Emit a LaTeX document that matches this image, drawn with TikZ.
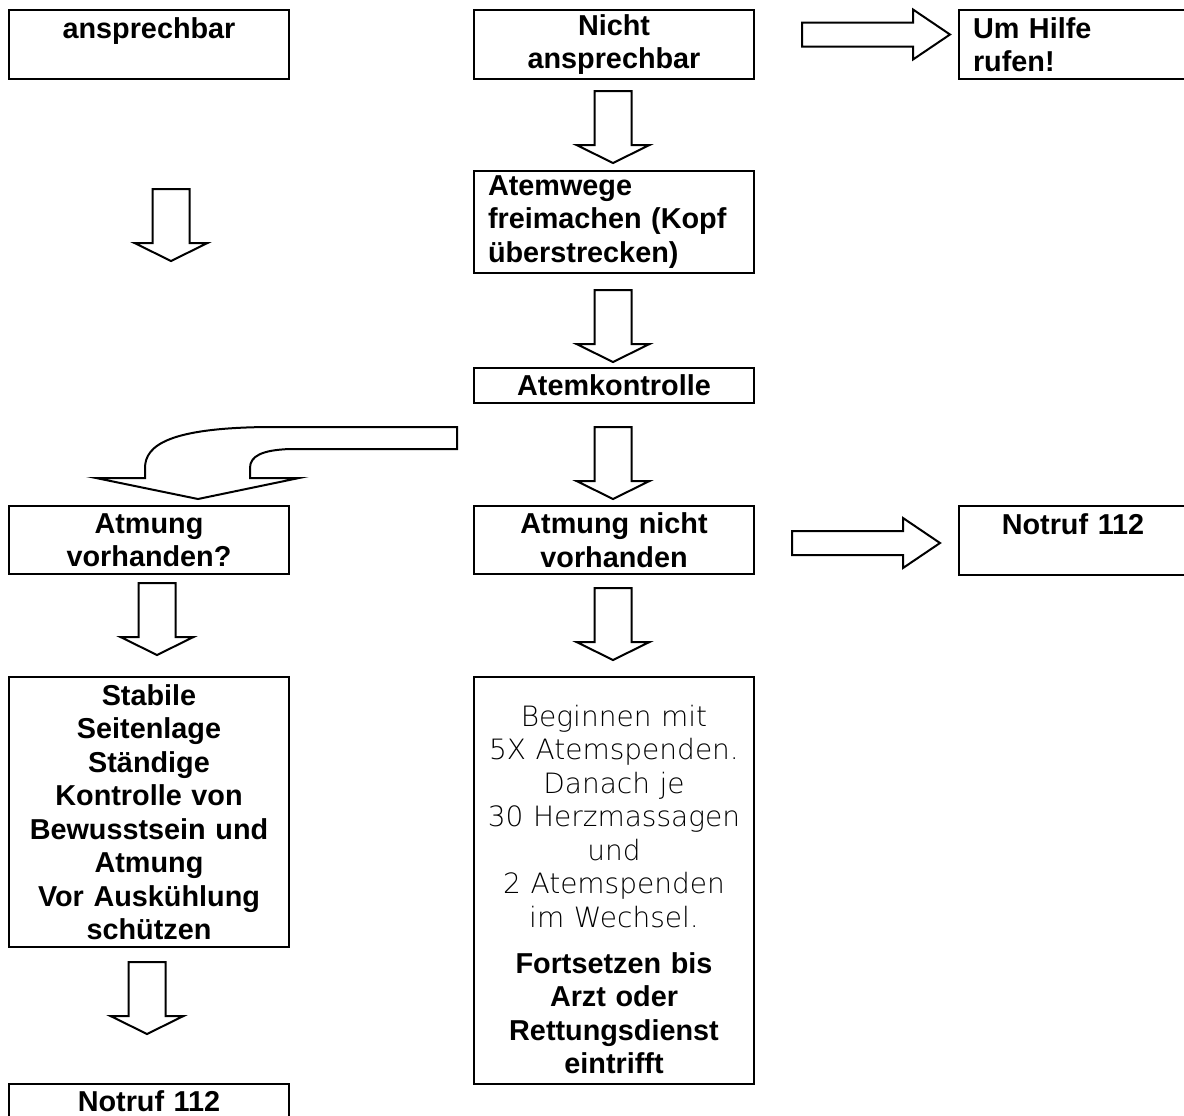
\documentclass[tikz,border=0pt]{standalone}
\usepackage{fontspec}
\setmainfont{Liberation Sans}
\IfFontExistsTF{DejaVu Sans ExtraLight}
  {\newfontfamily\thinfamily{DejaVu Sans ExtraLight}}
  {\newfontfamily\thinfamily{DejaVu Sans}}
\newcommand\thinfont{\thinfamily\mdseries\fontsize{14}{16.75}\selectfont}

% hollow block arrow pointing down, below a node
\newcommand\downblock[3]{%
  \draw[block] (#1) ++(#3-18.5,#2) -- ++(37,0) -- ++(0,54) -- ++(18,0)
    -- ++(-36.5,18) -- ++(-36.5,-18) -- ++(18,0) -- cycle;}
% hollow block arrow pointing right, beside a node
\newcommand\rightblock[3]{%
  \draw[block] (#1) ++(#2,#3-12) -- ++(111,0) -- ++(0,-13) -- ++(37,25)
    -- ++(-37,25) -- ++(0,-13) -- ++(-111,0) -- cycle;}

\begin{document}
\begin{tikzpicture}[x=0.5pt,y=-0.5pt]
    \tikzstyle{box}=[draw,line width=1pt,rectangle,anchor=north west,outer sep=0pt,
        minimum width=140pt,text width=126pt,inner xsep=7pt,inner ysep=2pt,align=center,
        font=\fontsize{14.4}{16.75}\selectfont\bfseries]
    \tikzstyle{narrow box}=[box,minimum width=114pt,text width=100pt]
    \tikzstyle{wide text}=[text width=136pt,inner xsep=2pt]
    \tikzstyle{block}=[draw,line width=1pt,fill=white,line join=miter]

    \useasboundingbox (0,0) rectangle (1184,1115);

    % Draw the boxes of the left column
    \node[box,minimum height=34.5pt] (ansp) at (9,10) {ansprechbar\\~};
    \node[box,minimum height=34pt] (vorh) at (9,506) {Atmung\\vorhanden?};
    \node[box,minimum height=135pt] (stab) at (9,677)
        {Stabile\\Seitenlage\\Ständige\\Kontrolle von\\Bewusstsein und\\Atmung\\Vor Auskühlung\\schützen};
    \node[box,minimum height=17pt] (notruf-l) at (9,1084) {Notruf 112};

    % Draw the boxes of the middle column
    \node[box,minimum height=34.5pt] (nicht) at (474,10) {Nicht\\ansprechbar};
    \node[box,align=left,minimum height=51pt] (wege) at (474,171)
        {Atemwege\\freimachen (Kopf\\überstrecken)};
    \node[box,minimum height=17.5pt] (kontr) at (474,368) {Atemkontrolle};
    \node[box,minimum height=34pt] (nvorh) at (474,506) {Atmung nicht\\vorhanden};
    \node[box,wide text,minimum height=203.5pt] (cpr) at (474,677)
        {{\thinfont\rule{0pt}{19.5pt}Beginnen mit\\5X Atemspenden.\\Danach je\\30 Herzmassagen\\und\\2 Atemspenden\\im Wechsel.}\\[6.25pt]
         Fortsetzen bis\\Arzt oder\\Rettungsdienst\\eintrifft};

    % Draw the boxes of the right column
    \node[narrow box,align=left,minimum height=34.5pt] (hilfe) at (959,10) {Um Hilfe\\rufen!};
    \node[narrow box,minimum height=34.5pt] (notruf-r) at (959,506) {Notruf 112\\~};

    % Draw the arrows going down
    \downblock{ansp.south}{110}{22}
    \downblock{nicht.south}{12}{-1}
    \downblock{wege.south}{17}{-1}
    \downblock{kontr.south}{24}{-1}
    \downblock{nvorh.south}{14}{-1}
    \downblock{vorh.south}{9}{8}
    \downblock{stab.south}{15}{-2}

    % Draw the arrows going right
    \rightblock{nicht.east}{48}{-10}
    \rightblock{nvorh.east}{38}{3}

    % The bent arrow into the left column
    \coordinate (bend) at (457,427);
    \draw[block] (bend) -- (267,427) .. controls (170,428) and (145,445) .. (145,468)
        -- (145,478) -- (96,478) -- (198,499) -- (299,478) -- (250,478) -- (250,468)
        .. controls (250,456) and (262,450) .. (290,449) -- (457,449) -- cycle;
\end{tikzpicture}
\end{document}
